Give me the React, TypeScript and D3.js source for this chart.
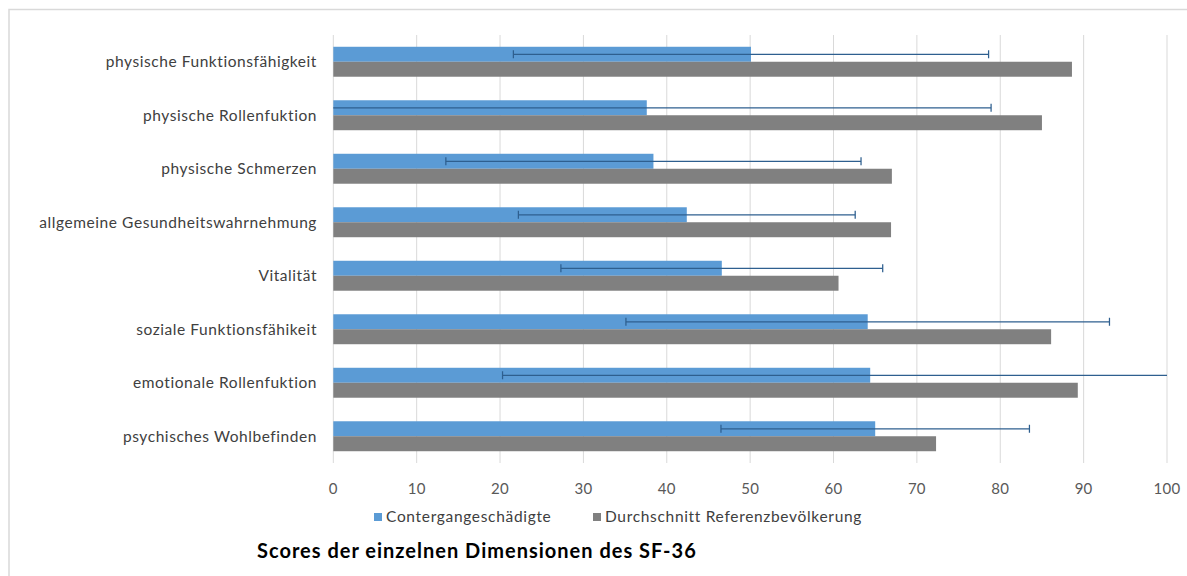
import * as React from 'react';
import * as d3 from 'd3';

// SF-36 dimensions, top to bottom
const categories = [
  'physische Funktionsfähigkeit',
  'physische Rollenfuktion',
  'physische Schmerzen',
  'allgemeine Gesundheitswahrnehmung',
  'Vitalität',
  'soziale Funktionsfähikeit',
  'emotionale Rollenfuktion',
  'psychisches Wohlbefinden',
];
const contergan = [50.1, 37.6, 38.4, 42.4, 46.6, 64.1, 64.4, 65.0];
const conterganSD = [28.5, 41.3, 24.9, 20.2, 19.3, 29.0, 44.1, 18.5];
const referenz = [88.6, 85.0, 67.0, 66.9, 60.6, 86.1, 89.3, 72.3];
const seriesNames = ['Contergangeschädigte', 'Durchschnitt Referenzbevölkerung'];
const xTicks = [0, 10, 20, 30, 40, 50, 60, 70, 80, 90, 100];
const title = 'Scores der einzelnen Dimensionen des SF-36';

const W = 1187;
const H = 576;
const BLUE = '#5b9bd5';
const GRAY = '#808080';
const ERR = '#2e5f8f';
const GRID = '#d9d9d9';
const FONT = 'Lato, "Liberation Sans", sans-serif';

const App: React.FC = () => {
  const x = d3.scaleLinear().domain([0, 100]).range([333.3, 1167]);
  const y = d3.scaleBand<string>()
    .domain(categories)
    .range([35, 463])
    .paddingInner(0.44)
    .paddingOuter(0.22);
  const sub = d3.scaleBand<number>().domain([0, 1]).range([0, y.bandwidth()]);
  const [plotTop, plotBottom] = y.range();

  return (
    <svg width={W} height={H} style={{ position: 'absolute', left: 0, top: 0, background: '#fff' }}>
      {/* chart area border (cropped at right/bottom) */}
      <rect x={9} y={9.5} width={W + 20} height={H + 20} fill="#fff" stroke={GRID} strokeWidth={1.5} />

      {/* gridlines */}
      {xTicks.map(t => (
        <line key={t} x1={x(t)} x2={x(t)} y1={plotTop} y2={plotBottom} stroke={GRID} strokeWidth={1} />
      ))}

      {/* bars */}
      {categories.map((c, i) => {
        const y0 = y(c)!;
        const lo = Math.max(0, contergan[i] - conterganSD[i]);
        const hi = Math.min(100, contergan[i] + conterganSD[i]);
        const ey = y0 + sub(0)! + sub.bandwidth() / 2;
        return (
          <g key={c}>
            <rect x={x(0)} y={y0 + sub(0)!} width={x(contergan[i]) - x(0)} height={sub.bandwidth()} fill={BLUE} />
            <rect x={x(0)} y={y0 + sub(1)!} width={x(referenz[i]) - x(0)} height={sub.bandwidth()} fill={GRAY} />
            <line x1={x(lo)} x2={x(hi)} y1={ey} y2={ey} stroke={ERR} strokeWidth={1.25} />
            {contergan[i] - conterganSD[i] > 0 && (
              <line x1={x(lo)} x2={x(lo)} y1={ey - 4} y2={ey + 4} stroke={ERR} strokeWidth={1.25} />
            )}
            {contergan[i] + conterganSD[i] < 100 && (
              <line x1={x(hi)} x2={x(hi)} y1={ey - 4} y2={ey + 4} stroke={ERR} strokeWidth={1.25} />
            )}
            <text x={317} y={y0 + y.bandwidth() / 2} dy="0.35em" textAnchor="end"
              fontFamily={FONT} fontSize={15.5} letterSpacing={0.56} fill="#404040">{c}</text>
          </g>
        );
      })}

      {/* x tick labels */}
      {xTicks.map(t => (
        <text key={t} x={x(t)} y={489} dy="0.35em" textAnchor="middle"
          fontFamily={FONT} fontSize={15} letterSpacing={0.3} fill="#595959">{t}</text>
      ))}

      {/* legend */}
      {seriesNames.map((s, i) => {
        const lx = i === 0 ? 374 : 593;
        return (
          <g key={s}>
            <rect x={lx} y={513} width={8} height={8} fill={i === 0 ? BLUE : GRAY} />
            <text x={lx + 12} y={517} dy="0.35em" fontFamily={FONT} fontSize={15.5}
              letterSpacing={0.68} fill="#404040">{s}</text>
          </g>
        );
      })}

      {/* title */}
      <text x={257} y={551} dy="0.35em" fontFamily={FONT} fontSize={20} letterSpacing={1}
        fontWeight="bold" fill="#000">{title}</text>
    </svg>
  );
};

export default App;
